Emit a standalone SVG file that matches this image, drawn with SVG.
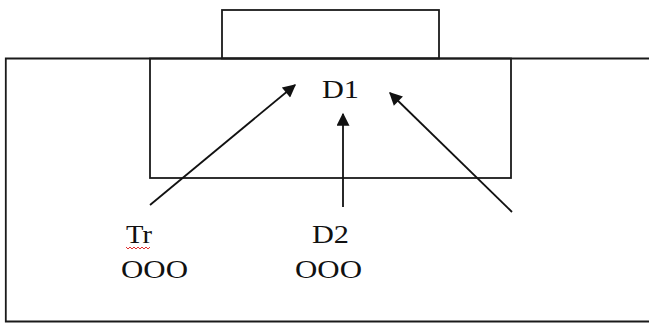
<svg xmlns="http://www.w3.org/2000/svg" width="649" height="323" viewBox="0 0 649 323">
<style>
.box{fill:none;stroke:#1a1a1a;stroke-width:1.8}
.lbl{font-family:"Liberation Serif","Times New Roman",serif;font-size:26px;fill:#111}
.conn{stroke:#111;stroke-width:1.8;fill:none}
</style>
<defs>
<marker id="ahb" viewBox="0 0 10 10" refX="9" refY="5" markerWidth="17" markerHeight="13" markerUnits="userSpaceOnUse" orient="auto">
<path d="M0,0 L10,5 L0,10 z" fill="#111"/>
</marker>
</defs>
<rect width="649" height="323" fill="#fff"/>
<g id="outer">
<path class="box" d="M660,58.5 H5.8 V321.5 H660"/>
</g>
<g id="top">
<rect class="box" x="222" y="10" width="217" height="48.5"/>
</g>
<g id="inner">
<rect class="box" x="150" y="58.5" width="361" height="119.5"/>
</g>
<g id="D1">
<text class="lbl" x="322" y="98" textLength="37" lengthAdjust="spacingAndGlyphs">D1</text>
</g>
<g id="Tr">
<text class="lbl" x="126" y="243" textLength="26" lengthAdjust="spacingAndGlyphs">Tr</text>
<path d="M126,247 l2,2 l2,-2 l2,2 l2,-2 l2,2 l2,-2 l2,2 l2,-2 l2,2 l2,-2 l2,2 l2,-2" fill="none" stroke="#e03030" stroke-width="1"/>
<text class="lbl" x="121" y="278" textLength="67" lengthAdjust="spacingAndGlyphs">OOO</text>
</g>
<g id="D2">
<text class="lbl" x="312" y="243" textLength="37" lengthAdjust="spacingAndGlyphs">D2</text>
<text class="lbl" x="295" y="278" textLength="67" lengthAdjust="spacingAndGlyphs">OOO</text>
</g>
<g id="connectors">
<line class="conn" x1="150" y1="205" x2="295" y2="85" marker-end="url(#ahb)"/>
<line class="conn" x1="343" y1="207" x2="343" y2="114" marker-end="url(#ahb)"/>
<line class="conn" x1="512" y1="212" x2="390" y2="93" marker-end="url(#ahb)"/>
</g>
</svg>
